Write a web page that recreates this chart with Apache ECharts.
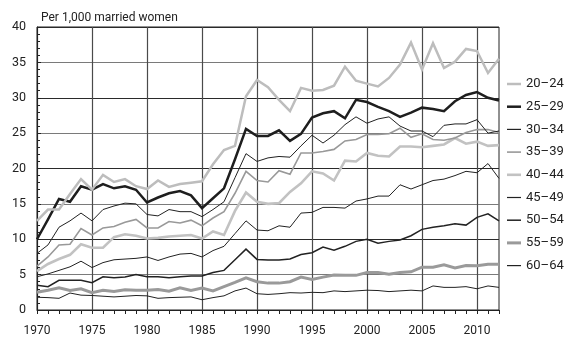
<!DOCTYPE html>
<html>
<head>
<meta charset="utf-8">
<script src="https://cdn.jsdelivr.net/npm/echarts@6/dist/echarts.min.js"></script>
<style>
html,body{margin:0;padding:0;background:#fff;}
#chart{width:568px;height:343px;}
</style>
</head>
<body>
<div id="chart"></div>
<script>
const years = [];
for (let y = 1970; y <= 2012; y++) years.push(String(y));

const seriesNames = ['20–24','25–29','30–34','35–39','40–44','45–49','50–54','55–59','60–64'];

const age20_24 = [12.6,14.2,14.2,16.4,18.5,17.0,19.1,18.1,18.5,17.5, 17.1,18.3,17.4,17.8,18.0,18.2,20.6,22.6,23.2,30.2, 32.5,31.5,29.7,28.1,31.4,31.0,31.1,31.7,34.4,32.4, 32.0,31.6,32.8,34.7,37.8,34.0,37.7,34.2,35.1,36.9, 36.6,33.5,35.5];
const age25_29 = [10.0,12.8,15.7,15.3,17.5,17.0,17.8,17.2,17.5,17.0, 15.2,15.9,16.5,16.8,16.2,14.4,15.8,17.2,21.3,25.6, 24.6,24.6,25.4,23.9,24.9,27.2,27.8,28.1,27.1,29.7, 29.4,28.7,28.1,27.3,27.9,28.6,28.4,28.1,29.5,30.4, 30.8,30.0,29.6];
const age30_34 = [8.0,9.2,11.7,12.6,13.7,12.6,14.2,14.7,15.1,15.0, 13.5,13.3,14.2,13.9,13.9,13.2,14.2,15.3,18.7,22.1, 21.0,21.5,21.7,21.6,23.2,24.7,23.6,24.7,26.2,27.3, 26.4,27.0,27.3,26.0,25.3,25.3,24.5,26.1,26.3,26.3, 26.9,25.0,25.3];
const age35_39 = [6.2,7.5,9.2,9.3,11.5,10.6,11.6,11.8,12.4,12.8, 11.6,11.6,12.5,12.3,12.7,11.9,13.0,13.9,16.5,19.6, 18.3,18.1,19.7,19.2,22.2,22.2,22.4,22.7,23.9,24.1, 24.8,24.8,24.9,25.7,24.4,24.9,24.1,24.0,24.3,25.1, 25.5,25.5,25.1];
const age40_44 = [5.5,6.5,7.2,7.8,9.3,8.8,8.8,10.3,10.7,10.5, 10.1,10.2,10.4,10.5,10.6,10.1,11.1,10.6,14.0,16.6, 15.3,15.0,15.1,16.7,17.9,19.6,19.3,18.3,21.1,21.0, 22.2,21.8,21.7,23.1,23.1,23.0,23.2,23.4,24.3,23.5, 23.8,23.2,23.3];
const age45_49 = [4.7,5.1,5.6,6.1,6.9,6.0,6.7,7.1,7.2,7.3, 7.5,7.0,7.5,7.9,8.0,7.5,8.4,9.0,10.8,12.6, 11.3,11.2,11.9,11.7,13.7,13.8,14.5,14.5,14.4,15.4, 15.7,16.1,16.1,17.7,17.1,17.7,18.3,18.5,19.0,19.6, 19.4,20.7,18.6];
const age50_54 = [3.5,3.3,4.2,4.2,4.2,3.85,4.7,4.55,4.65,5.0, 4.7,4.7,4.55,4.7,4.8,4.8,5.3,5.6,7.1,8.6, 7.15,7.05,7.05,7.2,7.85,8.1,8.9,8.45,9.0,9.7, 10.0,9.45,9.7,9.9,10.5,11.4,11.7,11.9,12.2,12.0, 13.1,13.6,12.6];
const age55_59 = [2.5,2.8,3.15,2.75,3.0,2.45,2.8,2.6,2.85,2.8, 2.8,2.9,2.65,3.15,2.75,3.1,2.7,3.3,3.9,4.55, 4.0,3.8,3.8,4.0,4.65,4.3,4.65,4.95,4.9,4.9, 5.3,5.3,5.05,5.3,5.4,6.05,6.05,6.4,5.95,6.3, 6.25,6.45,6.45];
const age60_64 = [1.8,1.75,1.65,2.4,2.1,2.05,1.95,1.85,1.95,2.05, 2.0,1.65,1.75,1.8,1.85,1.45,1.75,2.0,2.7,3.1, 2.3,2.2,2.3,2.45,2.4,2.5,2.45,2.7,2.6,2.7, 2.8,2.75,2.6,2.7,2.8,2.7,3.4,3.2,3.2,3.3, 3.0,3.4,3.2];

const allData = [age20_24, age25_29, age30_34, age35_39, age40_44, age45_49, age50_54, age55_59, age60_64];
const styles = [
  {color:'#bdbdbd', width:2.5},
  {color:'#1e1e1e', width:2.5},
  {color:'#222222', width:1},
  {color:'#999999', width:1.6},
  {color:'#c2c2c2', width:2.6},
  {color:'#222222', width:1},
  {color:'#222222', width:1.5},
  {color:'#9a9a9a', width:3},
  {color:'#222222', width:1}
];

const FONT = 'Roboto, "Noto Sans", sans-serif';

const chart = echarts.init(document.getElementById('chart'), null, {renderer:'canvas'});
chart.setOption({
  animation: false,
  backgroundColor: '#fff',
  title: {
    text: 'Per 1,000 married women',
    left: 36, top: 7,
    textStyle: {fontFamily: FONT, fontSize: 12, fontWeight: 'normal', color: '#222'}
  },
  grid: {left: 37, right: 69, top: 27, bottom: 33, show: true, borderColor: '#222', borderWidth: 1, backgroundColor: 'transparent'},
  legend: {
    orient: 'vertical',
    left: 502, top: 72,
    padding: 5,
    itemWidth: 14, itemHeight: 14, itemGap: 8.7,
    symbolKeepAspect: true,
    textStyle: {fontFamily: FONT, fontSize: 13, color: '#222', lineHeight: 14},
    data: seriesNames.map(function (name, k) {
      const w = Math.max(1.2, styles[k].width);
      return {
        name: name,
        icon: 'path://M0 0H14V' + w + 'H0Z',
        itemStyle: {color: styles[k].color, borderWidth: 0}
      };
    })
  },
  xAxis: {
    type: 'category',
    boundaryGap: false,
    data: years,
    axisLine: {lineStyle: {color: '#222', width: 1}},
    axisTick: {show: true, interval: 0, inside: false, length: 4, lineStyle: {color: '#222'}},
    axisLabel: {interval: function (i) { return i % 5 === 0; }, margin: 15, fontFamily: FONT, fontSize: 12, color: '#222'},
    splitLine: {show: true, interval: function (i) { return i % 5 === 0; }, lineStyle: {color: '#4a4a4a', width: 1.2}}
  },
  yAxis: {
    type: 'value',
    min: 0, max: 40, interval: 5,
    axisLine: {show: true, lineStyle: {color: '#222', width: 1}},
    axisTick: {show: true, inside: true, length: 4, lineStyle: {color: '#222'}},
    minorTick: {show: true, splitNumber: 5, length: 3, lineStyle: {color: '#222'}},
    axisLabel: {margin: 11, fontFamily: FONT, fontSize: 12.5, color: '#222'},
    splitLine: {show: true, lineStyle: {color: ['#2a2a2a', '#7a7a7a'], width: 1.2}}
  },
  series: seriesNames.map(function (name, k) {
    return {
      name: name,
      type: 'line',
      data: allData[k],
      symbol: 'none',
      showSymbol: false,
      lineStyle: {color: styles[k].color, width: styles[k].width, join: 'miter'},
      itemStyle: {color: styles[k].color},
      z: 10 - k
    };
  })
});
</script>
</body>
</html>
